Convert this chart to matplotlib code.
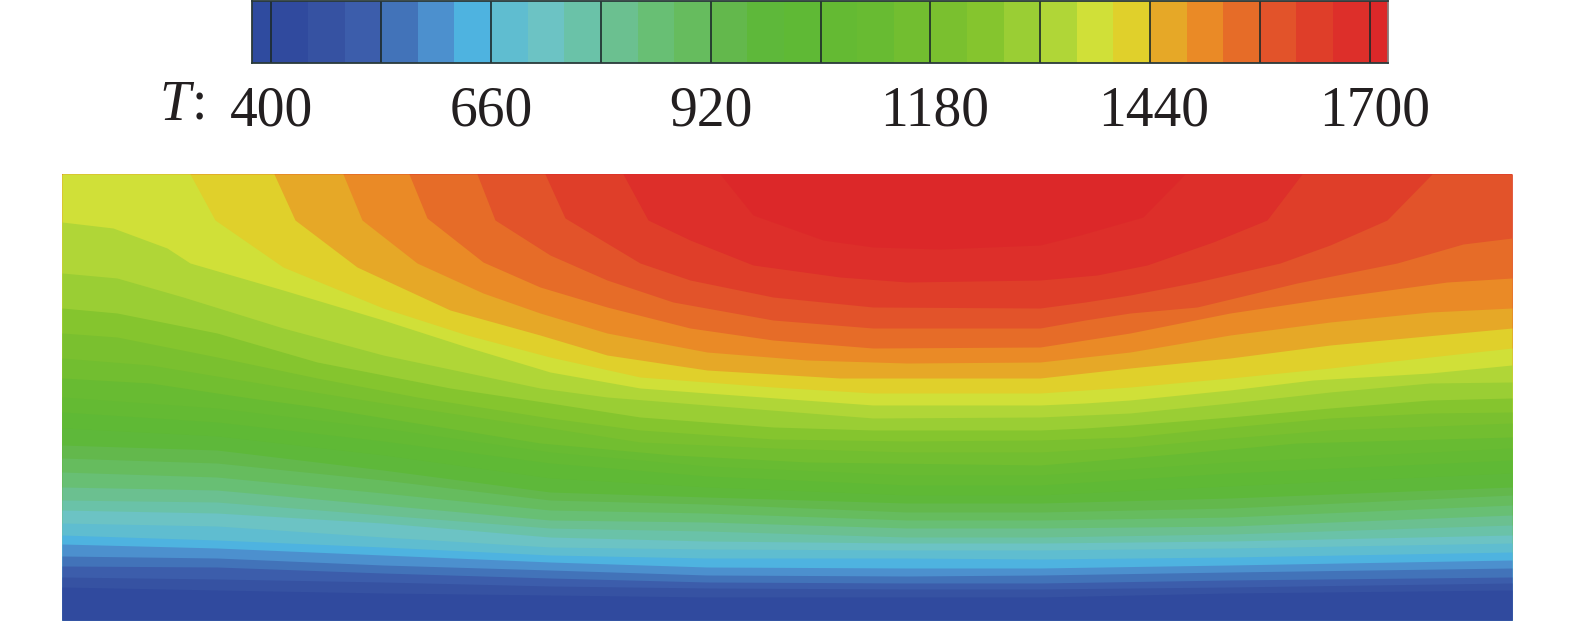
import matplotlib
matplotlib.use("Agg")
import matplotlib.pyplot as plt
import numpy as np
from matplotlib.colors import BoundaryNorm, ListedColormap

# Band colours, coldest first
band_colors = [
    "#2f4b9f", "#304a9e", "#3652a2", "#3c5dab", "#4273b9", "#4c90ce", "#4eb3e0", "#5fbdd0",
    "#6cc3c4", "#6ac2a8", "#6bc090", "#68bf74", "#66bc5e", "#63b84c", "#5eb83a", "#5fb935",
    "#64ba33", "#68bb32", "#72be30", "#7ac02f", "#85c52e", "#9ace34", "#b0d637", "#d0e038",
    "#e0d02b", "#e6a827", "#ea8a26", "#e66c28", "#e2532a", "#df3e29", "#dd2f2a", "#dc2829",
]
tick_labels = [400, 660, 920, 1180, 1440, 1700]

# Isotherms, x along the domain and y down from the top.
# bN separates band N from band N + 1.
low_x = [62, 217, 383, 550, 707, 907, 1040, 1230, 1512]
b1 = [587, 590, 593, 595, 597, 597, 597, 593, 590]
b2 = [577, 579, 582, 586, 588, 589, 589, 587, 583]
b3 = [566, 567, 573, 578, 582, 583, 583, 580, 577]
b4 = [556, 558, 565, 570, 575, 576, 575, 572, 568]
b5 = [544, 548, 555, 562, 567, 568, 568, 565, 560]
b6 = [535, 540, 547, 555, 558, 558, 559, 557, 552]
b7 = [523, 526, 537, 547, 549, 550, 550, 548, 543]
b8 = [510, 513, 523, 537, 541, 543, 543, 541, 535]
b9 = [500, 502, 515, 528, 531, 537, 537, 534, 525]
b10 = [487, 490, 505, 520, 522, 528, 528, 526, 515]
b11 = [472, 477, 493, 510, 513, 520, 520, 517, 505]
b12 = [458, 463, 480, 500, 504, 512, 512, 508, 495]
b13 = [445, 450, 470, 492, 497, 503, 503, 498, 487]
b14 = [428, 436, 455, 478, 487, 495, 495, 486, 473]
b15 = [412, 422, 441, 463, 476, 485, 485, 473, 460]
b16 = [397, 408, 428, 452, 466, 475, 475, 462, 448]

b17_x = [62, 150, 250, 317, 540, 673, 807, 1040, 1163, 1297, 1512]
b17 = [378, 383, 398, 407, 443, 455, 462, 465, 455, 443, 437]
b18_x = [62, 150, 283, 383, 550, 640, 773, 907, 1040, 1130, 1230, 1330, 1512]
b18 = [358, 365, 387, 403, 428, 442, 448, 452, 452, 447, 438, 430, 423]
b19_x = [62, 117, 217, 317, 417, 550, 640, 773, 907, 1040, 1130, 1230, 1330, 1430, 1512]
b19 = [333, 337, 357, 378, 397, 418, 430, 439, 441, 440, 437, 427, 418, 413, 412]
b20_x = [62, 117, 217, 317, 450, 550, 640, 773, 873, 1040, 1085, 1130, 1230, 1330, 1430, 1512]
b20 = [308, 313, 333, 362, 388, 403, 417, 427, 430, 430, 428, 425, 417, 408, 400, 398]
b21_x = [62, 117, 183, 283, 383, 540, 607, 707, 873, 1040, 1085, 1130, 1230, 1330, 1430, 1512]
b21 = [273, 278, 297, 328, 355, 388, 397, 405, 418, 417, 415, 413, 403, 392, 383, 382]
b22_x = [62, 113, 167, 190, 283, 383, 467, 550, 640, 707, 873, 1040, 1085, 1130, 1230, 1313, 1430, 1512]
b22 = [222, 228, 248, 263, 290, 320, 347, 372, 388, 393, 405, 405, 403, 400, 390, 380, 373, 365]
b23_x = [62, 190, 215, 283, 383, 467, 550, 640, 773, 873, 1040, 1085, 1130, 1230, 1330, 1430, 1512]
b23 = [174, 174, 220, 267, 308, 335, 357, 377, 387, 393, 393, 390, 387, 378, 368, 357, 348]
b24_x = [62, 274, 295, 357, 450, 540, 607, 707, 840, 1040, 1085, 1130, 1230, 1330, 1512]
b24 = [174, 174, 220, 267, 310, 335, 355, 370, 378, 378, 373, 368, 358, 345, 328]
b25_x = [62, 343, 362, 417, 483, 540, 607, 707, 807, 907, 1040, 1085, 1130, 1230, 1330, 1430, 1512]
b25 = [174, 174, 220, 263, 293, 313, 333, 352, 360, 363, 362, 357, 352, 335, 322, 312, 308]
b26_x = [62, 409, 427, 483, 540, 607, 690, 773, 873, 1040, 1085, 1130, 1230, 1330, 1447, 1512]
b26 = [174, 174, 218, 262, 287, 307, 328, 340, 348, 347, 340, 333, 313, 298, 282, 278]
b27_x = [62, 477, 495, 550, 607, 673, 773, 873, 1040, 1085, 1130, 1197, 1297, 1397, 1463, 1512]
b27 = [174, 174, 220, 255, 280, 302, 320, 328, 328, 320, 313, 307, 283, 263, 244, 238]
b28_x = [62, 545, 565, 590, 640, 690, 773, 873, 1040, 1085, 1130, 1197, 1280, 1330, 1387, 1432, 1512]
b28 = [174, 174, 218, 233, 263, 280, 297, 307, 308, 302, 295, 282, 263, 245, 220, 174, 174]
b29_x = [62, 623, 648, 690, 753, 840, 907, 1040, 1097, 1147, 1213, 1267, 1302, 1512]
b29 = [174, 174, 220, 240, 265, 277, 282, 280, 275, 265, 242, 220, 174, 174]
b30_x = [62, 720, 753, 823, 873, 940, 1040, 1080, 1143, 1185, 1512]
b30 = [174, 174, 215, 240, 247, 249, 245, 235, 217, 174, 174]

isotherms = [(low_x, b) for b in (b1, b2, b3, b4, b5, b6, b7, b8, b9, b10, b11, b12, b13, b14, b15, b16)] + [
    (b17_x, b17), (b18_x, b18), (b19_x, b19), (b20_x, b20), (b21_x, b21), (b22_x, b22), (b23_x, b23),
    (b24_x, b24), (b25_x, b25), (b26_x, b26), (b27_x, b27), (b28_x, b28), (b29_x, b29), (b30_x, b30),
]

W, H = 1575, 622
fig = plt.figure(figsize=(W / 100, H / 100), dpi=100)
plt.rcParams["font.family"] = ["Liberation Serif", "DejaVu Serif"]
TEXT = "#231f20"

# Temperature field: hottest band as background, each cooler band painted below its isotherm
ax = fig.add_axes([62 / W, 1 - 620 / H, (1512 - 62) / W, (620 - 174) / H])
ax.set_xlim(62, 1512)
ax.set_ylim(620, 174)
ax.axis("off")
ax.add_patch(plt.Rectangle((62, 174), 1450, 446, color=band_colors[-1], linewidth=0, zorder=0))
for i, (xs, ys) in reversed(list(enumerate(isotherms, start=1))):
    ax.fill_between(xs, ys, 620, color=band_colors[i], linewidth=0)

# Colour bar: 32 bands, black ticks every 130 K
step = 130 / 3
t_min = 400 - step * 0.53
t_max = 1700 + step * 0.5
edges = np.array([t_min] + [400 + step * k for k in range(31)] + [t_max])
cax = fig.add_axes([252 / W, 1 - 63 / H, (1388 - 252) / W, 62 / H])
cmap = ListedColormap(band_colors)
norm = BoundaryNorm(edges, cmap.N)
cax.pcolormesh(edges, [0, 1], [0.5 * (edges[:-1] + edges[1:])], cmap=cmap, norm=norm, linewidth=0)
cax.set_xlim(t_min, t_max)
cax.set_ylim(0, 1)
cax.set_yticks([])
cax.set_xticks([])
cax.vlines(np.arange(400, 1701, 130), 0, 1, color="#1c2a2a", linewidth=1.2)
for side in cax.spines.values():
    side.set_color("#2a3a3a")
    side.set_linewidth(1.3)
cax.spines["right"].set_color("#8a7a7a")

# Tick labels sit below the bar, the four digit ones a little right of their ticks
label_nudge = [0, 0, 0, 4, 4, 5]
for t, nudge in zip(tick_labels, label_nudge):
    x_px = 252 + (t - t_min) / (t_max - t_min) * (1388 - 252) + nudge
    fig.text(x_px / W, 1 - 125 / H, str(t), ha="center", va="baseline", fontsize=40, color=TEXT)
fig.text(159 / W, 1 - 120 / H, "T", style="italic", ha="left", va="baseline", fontsize=40, color=TEXT)
fig.text(192 / W, 1 - 120 / H, ":", ha="left", va="baseline", fontsize=40, color=TEXT)

fig.savefig("out.png", dpi=100, facecolor="white")
